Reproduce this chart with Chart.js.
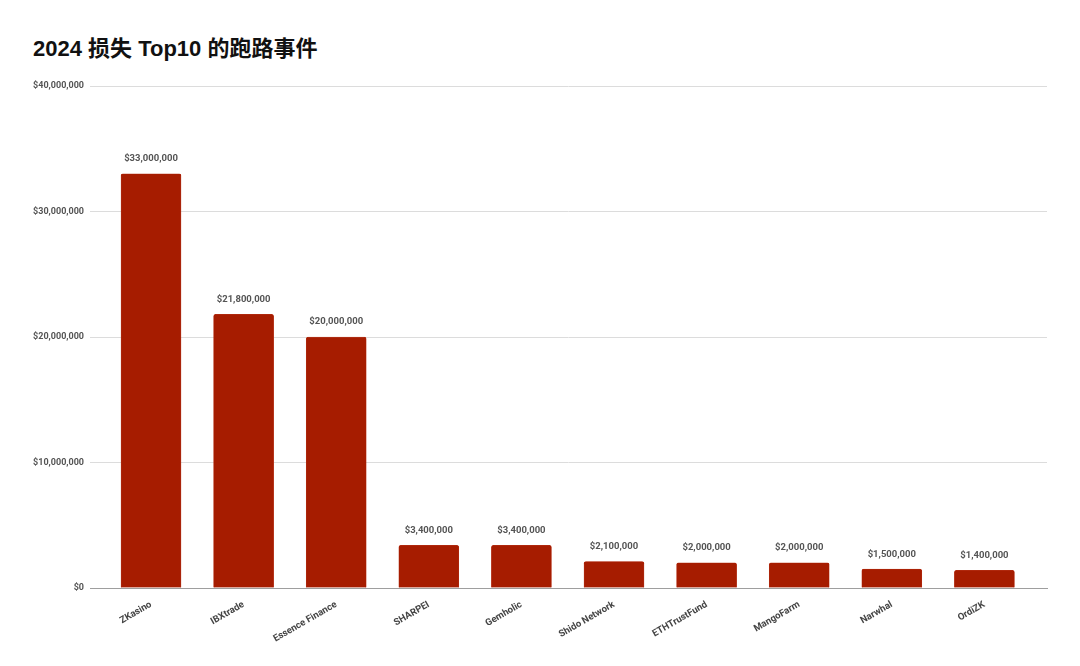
<!DOCTYPE html>
<html>
<head>
<meta charset="utf-8">
<script src="https://cdn.jsdelivr.net/npm/chart.js@4.4.1/dist/chart.umd.min.js"></script>
<style>
  html, body { margin: 0; padding: 0; background: #fff; }
  #wrap { position: relative; width: 1080px; height: 666px; }
  #title {
    position: absolute; left: 33px; top: 30px;
    font: bold 22px "Liberation Sans", "Noto Sans CJK SC", sans-serif;
    color: #111;
  }
  canvas { position: absolute; left: 0; top: 0; }
</style>
</head>
<body>
<div id="wrap">
  <div id="title">2024 损失 Top10 的跑路事件</div>
  <canvas id="c" width="1080" height="666"></canvas>
</div>
<script>
// ================================
// Datos
// ================================
const projects = ["ZKasino", "IBXtrade", "Essence Finance", "SHARPEI", "Gemholic",
  "Shido Network", "ETHTrustFund", "MangoFarm", "Narwhal", "OrdiZK"];
const losses = [33000000, 21800000, 20000000, 3400000, 3400000,
  2100000, 2000000, 2000000, 1500000, 1400000];
const yTicks = [0, 10000000, 20000000, 30000000, 40000000];

const money = v => "$" + Math.round(v).toLocaleString("en-US");
const labelFont = { family: "Roboto, 'Liberation Sans', sans-serif", size: 9, weight: "bold" };

// Etiquetas encima de las barras
const valueLabels = {
  id: "valueLabels",
  afterDatasetsDraw(chart) {
    const ctx = chart.ctx;
    const meta = chart.getDatasetMeta(0);
    ctx.save();
    ctx.font = "bold 9.5px Roboto, 'Liberation Sans', sans-serif";
    ctx.fillStyle = "#555";
    ctx.textAlign = "center";
    ctx.textBaseline = "middle";
    meta.data.forEach((bar, i) => {
      ctx.fillText(money(losses[i]), bar.x, bar.y - 15);
    });
    ctx.restore();
  }
};

new Chart(document.getElementById("c"), {
  type: "bar",
  data: {
    datasets: [{
      data: losses.map((v, i) => ({ x: i, y: v })),
      backgroundColor: "#a61c00",
      borderColor: "#b8341a",
      borderWidth: 0.5,
      borderSkipped: "bottom",
      borderRadius: { topLeft: 2, topRight: 2 },
      barThickness: 60
    }]
  },
  options: {
    responsive: false,
    animation: false,
    layout: { padding: { top: 86, right: 33, left: 0, bottom: 0 } },
    plugins: { legend: { display: false }, tooltip: { enabled: false } },
    scales: {
      x: {
        type: "linear",
        offset: false,
        min: -0.659,
        max: 9.676,
        afterFit: s => { s.height = 78; },
        grid: { display: false },
        border: { display: true, color: "#9e9e9e", width: 1 },
        ticks: {
          stepSize: 1,
          includeBounds: false,
          autoSkip: false,
          minRotation: 30,
          maxRotation: 30,
          padding: 3,
          color: "#444",
          font: { family: "Roboto, 'Liberation Sans', sans-serif", size: 9.5, weight: "bold" },
          callback: v => Number.isInteger(v) ? projects[v] : ""
        }
      },
      y: {
        min: 0,
        max: 40000000,
        afterFit: s => { s.width = 90; },
        afterBuildTicks: s => { s.ticks = yTicks.map(v => ({ value: v })); },
        grid: { color: "#dcdcdc", drawTicks: false, lineWidth: 1 },
        border: { display: false },
        ticks: {
          padding: 6,
          color: "#555",
          font: labelFont,
          callback: v => money(v)
        }
      }
    }
  },
  plugins: [valueLabels]
});
</script>
</body>
</html>
